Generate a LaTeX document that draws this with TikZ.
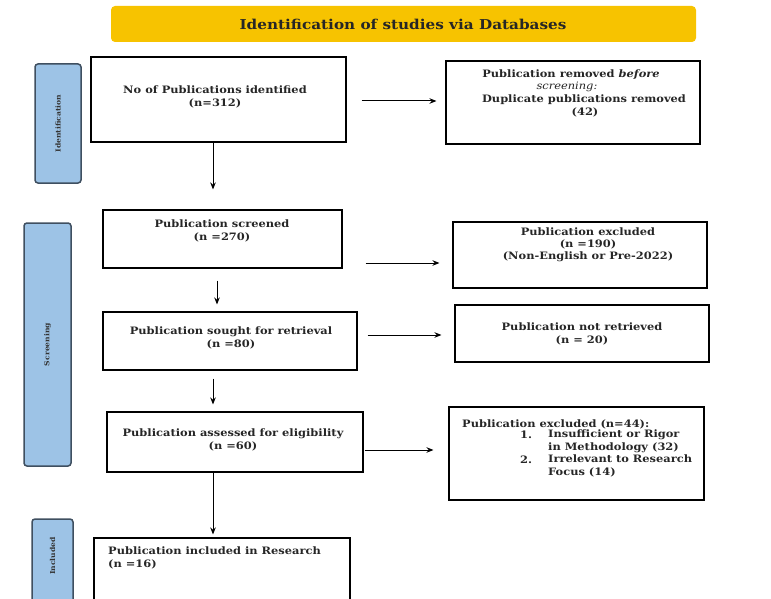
\documentclass[tikz,border=0pt]{standalone}
\usepackage{fontspec}
\setmainfont{DejaVu Serif}[FakeStretch=1.12]
\usetikzlibrary{fit,arrows.meta}
\definecolor{gold}{HTML}{F7C300}
\definecolor{sideblue}{HTML}{9DC3E6}
\definecolor{sideedge}{HTML}{3F4F60}
\tikzset{
  box/.style={draw=black, line width=1.1pt, inner sep=0pt, fill=white},
  side/.style={draw=sideedge, line width=1.5pt, fill=sideblue, rounded corners=3pt, inner sep=0pt},
  sidetxt/.style={font=\fontsize{6.8}{8}\selectfont\bfseries, text=black!80, rotate=90, inner sep=0pt},
  txt/.style={font=\fontsize{10.2}{12.2}\selectfont\bfseries, text=black!85, inner sep=0pt, align=center},
  arr/.style={line width=1pt, -{Stealth[length=7pt,width=5.5pt]}},
}
\begin{document}
\begin{tikzpicture}[x=1pt,y=-1pt]
\useasboundingbox (0,0) rectangle (771,599);
% banner
\node[fill=gold, rounded corners=4pt, inner sep=0pt, fit={(111,6)(696,42)}] (banner) {};
\node[font=\fontsize{13.6}{15}\selectfont\bfseries, text=black!85, inner sep=0pt] (bannertxt) at (403,24) {Identification of studies via Databases};
% side labels
\node[side, fit={(35,64)(81,183)}] (sid) {};
\node[sidetxt] (sidt) at (sid.center) {Identification};
\node[side, fit={(24,223)(71,466)}] (sscr) {};
\node[sidetxt] (sscrt) at (sscr.center) {Screening};
\begin{scope}
\clip (0,0) rectangle (771,599);
\node[side, fit={(32,519)(73,608)}] (sinc) {};
\end{scope}
\node[sidetxt] (sinct) at (52.5,556) {Included};
% left boxes
\node[box, fit={(91,57)(346,142)}] (b1) {};
\node[txt] (b1t) at (215,97) {No of Publications identified\\(n=312)};
\node[box, fit={(103,210)(342,268)}] (b2) {};
\node[txt] (b2t) at (222,231) {Publication screened\\(n =270)};
\node[box, fit={(103,312)(357,370)}] (b3) {};
\node[txt] (b3t) at (231,338) {Publication sought for retrieval\\(n =80)};
\node[box, fit={(107,412)(363,472)}] (b4) {};
\node[txt] (b4t) at (233,440) {Publication assessed for eligibility\\(n =60)};
\begin{scope}
\clip (0,0) rectangle (771,599);
\node[box, fit={(94,538)(350,610)}] (b5) {};
\end{scope}
\node[txt, align=left, anchor=north west] (b5t) at (108,547) {Publication included in Research\\(n =16)};
% right boxes
\node[box, fit={(446,61)(700,144)}] (r1) {};
\node[txt] (r1a) at (571,75) {Publication removed \textit{before}};
\node[txt, font=\fontsize{10.2}{12.5}\selectfont\itshape] (r1b) at (567,87) {screening:};
\node[txt] (r1c) at (584,99.5) {Duplicate publications removed};
\node[txt] (r1d) at (585,112.5) {(42)};
\node[box, fit={(453,222)(707,288)}] (r2) {};
\node[txt] (r2t) at (588,245) {Publication excluded\\(n =190)\\(Non-English or Pre-2022)};
\node[box, fit={(455,305)(709,362)}] (r3) {};
\node[txt] (r3t) at (582,334) {Publication not retrieved\\(n = 20)};
\node[box, fit={(449,407)(704,500)}] (r4) {};
\node[txt, anchor=west] (r4a) at (462,424) {Publication excluded (n=44):};
\node[txt, anchor=west] (r4n1) at (520,435) {1.};
\node[txt, anchor=north west, align=left] (r4b) at (548,430) {Insufficient or Rigor\\in Methodology (32)};
\node[txt, anchor=west] (r4n2) at (520,460) {2.};
\node[txt, anchor=north west, align=left] (r4c) at (548,455) {Irrelevant to Research\\Focus (14)};
% arrows right
\draw[arr, shorten <=15pt, shorten >=9pt] ([yshift=-1.5pt]b1.east) -- ([yshift=-1.5pt]b1.east -| r1.west);
\draw[arr, shorten <=23pt, shorten >=13pt] ([yshift=-24pt]b2.east) -- ([yshift=-24pt]b2.east -| r2.west);
\draw[arr, shorten <=10pt, shorten >=13pt] ([yshift=6pt]b3.east) -- ([yshift=6pt]b3.east -| r3.west);
\draw[arr, shorten <=1pt, shorten >=15pt] ([yshift=-8pt]b4.east) -- ([yshift=-8pt]b4.east -| r4.west);
% arrows down
\draw[arr, shorten >=20pt] ([xshift=-5.5pt]b1.south) -- ([xshift=-5.5pt]b1.south |- b2.north);
\draw[arr, shorten <=12pt, shorten >=7pt] ([xshift=-5.5pt]b2.south) -- ([xshift=-5.5pt]b2.south |- b3.north);
\draw[arr, shorten <=8pt, shorten >=7pt] ([xshift=-17pt]b3.south) -- ([xshift=-17pt]b3.south |- b4.north);
\draw[arr, shorten >=3pt] ([xshift=-22pt]b4.south) -- ([xshift=-22pt]b4.south |- b5.north);
\end{tikzpicture}
\end{document}
